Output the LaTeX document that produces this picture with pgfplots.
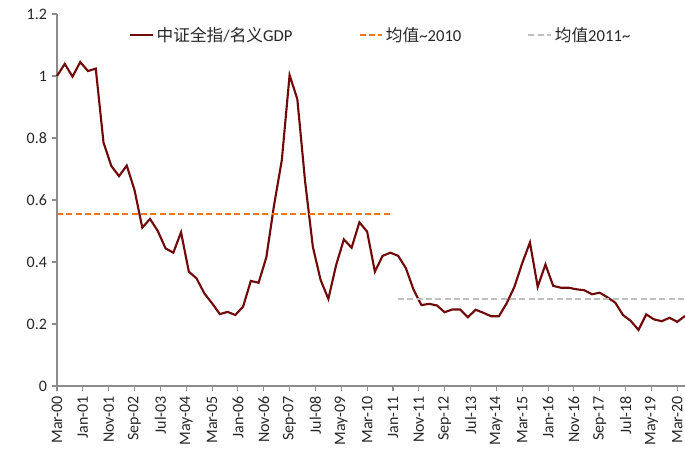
\documentclass[border=0pt]{standalone}
\usepackage{pgfplots}
\pgfplotsset{compat=1.18}
\usepackage{fontspec}
\setmainfont{Carlito}
\newfontfamily\cjk{Noto Sans CJK SC}
\definecolor{mainred}{RGB}{112,10,10}
\definecolor{meanorange}{RGB}{240,118,28}
\definecolor{meangray}{RGB}{191,191,191}
\definecolor{axgray}{RGB}{140,140,140}
\pgfplotstableread{
m v
0 1.000
3 1.039
6 0.998
9 1.045
12 1.016
15 1.024
18 0.785
21 0.710
24 0.677
27 0.711
30 0.632
33 0.511
36 0.539
39 0.500
42 0.444
45 0.430
48 0.496
51 0.369
54 0.347
57 0.299
60 0.267
63 0.232
66 0.239
69 0.229
72 0.256
75 0.339
78 0.333
81 0.415
84 0.584
87 0.729
90 1.003
93 0.925
96 0.660
99 0.449
102 0.342
105 0.281
108 0.390
111 0.473
114 0.446
117 0.528
120 0.498
123 0.369
126 0.420
129 0.430
132 0.420
135 0.380
138 0.310
141 0.261
144 0.265
147 0.260
150 0.238
153 0.247
156 0.247
159 0.222
162 0.246
165 0.236
168 0.225
171 0.225
174 0.267
177 0.320
180 0.396
183 0.463
186 0.320
189 0.392
192 0.323
195 0.317
198 0.317
201 0.312
204 0.309
207 0.296
210 0.301
213 0.286
216 0.269
219 0.229
222 0.210
225 0.181
228 0.231
231 0.215
234 0.209
237 0.220
240 0.207
243 0.226
}\ratio
\begin{document}
\begin{tikzpicture}
\begin{axis}[
  scale only axis,
  width=471pt, height=279pt,
  xmin=0, xmax=243, ymin=0, ymax=1.2,
  axis x line*=bottom, axis y line*=left,
  axis line style={axgray, line width=0.8pt},
  tick style={axgray, line width=0.8pt},
  tick align=outside,
  major tick length=4pt,
  xtick={0,10,...,240},
  xticklabels={Mar-00,Jan-01,Nov-01,Sep-02,Jul-03,May-04,Mar-05,Jan-06,Nov-06,Sep-07,Jul-08,May-09,Mar-10,Jan-11,Nov-11,Sep-12,Jul-13,May-14,Mar-15,Jan-16,Nov-16,Sep-17,Jul-18,May-19,Mar-20},
  xticklabel style={rotate=90, anchor=east, font=\fontsize{12pt}{14pt}\selectfont, text=black!85},
  ytick={0,0.2,0.4,0.6,0.8,1,1.2},
  yticklabels={0,0.2,0.4,0.6,0.8,1,1.2},
  yticklabel style={font=\fontsize{12pt}{14pt}\selectfont, text=black!85},
  /pgf/number format/assume math mode=true,
  clip=false,
  legend columns=3,
  legend style={at={(0.1146,0.9435)}, anchor=west, draw=none, fill=none, inner sep=0pt,
    font=\fontsize{12.5pt}{14pt}\selectfont, text=black!85,
    /tikz/every even column/.append style={column sep=47.5pt}},
  legend image code/.code={\draw[#1] (0pt,0pt) -- (17pt,0pt);},
]
\addplot[mainred, line width=1.6pt] table[x=m, y=v] {\ratio};
\addlegendentry{{\cjk 中证全指}/{\cjk 名义}GDP}
\addplot[meanorange, line width=1.6pt, dash pattern=on 4.5pt off 2.5pt] coordinates {(0,0.555) (129,0.555)};
\addlegendentry{{\cjk 均值}\textasciitilde 2010}
\addplot[meangray, line width=1.6pt, dash pattern=on 4.5pt off 2.5pt] coordinates {(132,0.280) (243,0.280)};
\addlegendentry{{\cjk 均值}2011\textasciitilde}
\end{axis}
\pgfresetboundingbox
\path ([shift={(-42.75pt,-48.75pt)}]current axis.south west) rectangle ([shift={(0pt,10.5pt)}]current axis.north east);
\end{tikzpicture}
\end{document}
